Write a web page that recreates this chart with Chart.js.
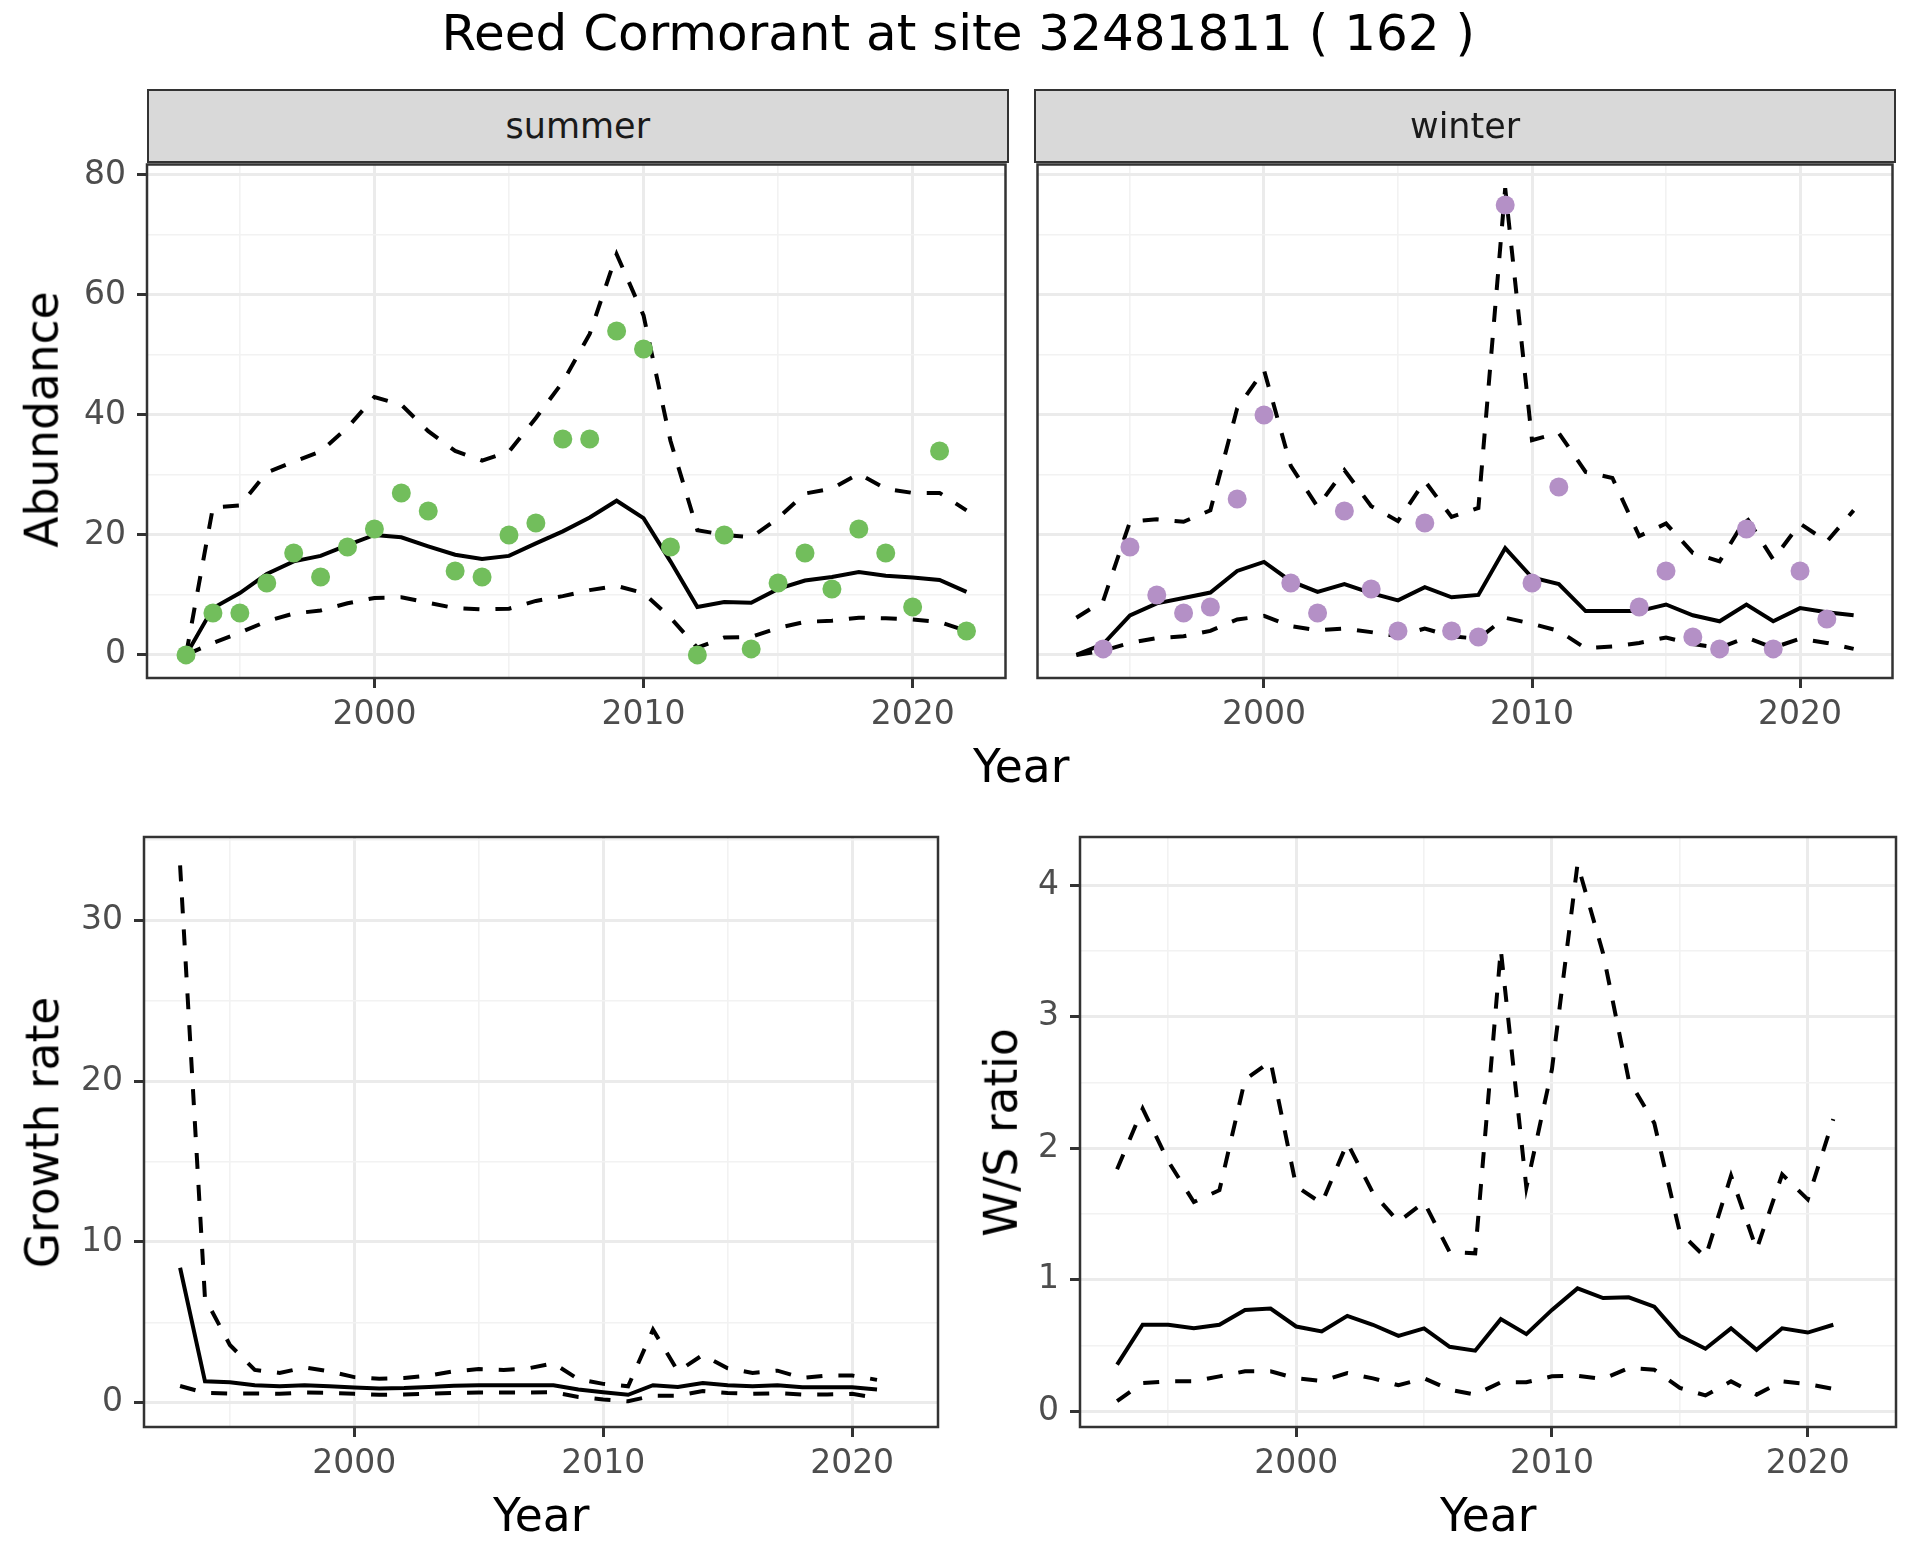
<!DOCTYPE html>
<html>
<head>
<meta charset="utf-8">
<script src="https://cdn.jsdelivr.net/npm/chart.js@4.4.1/dist/chart.umd.min.js"></script>
<style>
  body { margin: 0; background: #fff; width: 1920px; height: 1560px; position: relative; overflow: hidden; }
  canvas { position: absolute; }
  .txt { position: absolute; white-space: nowrap; line-height: 1.164; font-family: 'DejaVu Sans'; }
  .strip { position: absolute; background: #D9D9D9; border: 2.5px solid #333333; box-sizing: border-box; }
</style>
</head>
<body>
<canvas id="summerChart"></canvas>
<canvas id="winterChart"></canvas>
<canvas id="growthChart"></canvas>
<canvas id="ratioChart"></canvas>
<div class="strip" style="left:147px;top:89px;width:862px;height:74px;"></div>
<div class="strip" style="left:1034px;top:89px;width:862px;height:74px;"></div>
<script>
// Survey years (abundance panels) and model years (growth rate / ratio panels)
const years = [1993, 1994, 1995, 1996, 1997, 1998, 1999, 2000, 2001, 2002, 2003, 2004, 2005, 2006, 2007,
               2008, 2009, 2010, 2011, 2012, 2013, 2014, 2015, 2016, 2017, 2018, 2019, 2020, 2021, 2022];
const rateYears = [1993, 1994, 1995, 1996, 1997, 1998, 1999, 2000, 2001, 2002, 2003, 2004, 2005, 2006, 2007,
                   2008, 2009, 2010, 2011, 2012, 2013, 2014, 2015, 2016, 2017, 2018, 2019, 2020, 2021];

// Summer counts and fitted trend with its interval
const summerCounts = [0, 7, 7, 12, 17, 13, 18, 21, 27, 24, 14, 13, 20, 22, 36, 36, 54, 51, 18, 0, 20, 1, 12, 17, 11, 21, 17, 8, 34, 4];
const summerMean = [0, 7.8, 10.3, 13.5, 15.6, 16.5, 18.3, 20.0, 19.6, 18.1, 16.7, 16.0, 16.5, 18.6, 20.6,
                    22.9, 25.7, 22.8, 15.6, 8.0, 8.8, 8.7, 11.0, 12.4, 13.0, 13.8, 13.2, 12.9, 12.5, 10.5];
const summerUpper = [0, 24.6, 24.9, 30.4, 32.2, 33.9, 37.9, 43.0, 41.7, 37.3, 34.0, 32.4, 33.9, 39.5, 45.5,
                     53.5, 66.8, 56.6, 35.7, 20.8, 20.0, 19.6, 22.8, 26.9, 27.7, 30.2, 27.7, 27.0, 27.0, 24.1];
const summerLower = [0, 2.0, 3.7, 5.6, 6.9, 7.4, 8.6, 9.5, 9.6, 8.7, 7.8, 7.6, 7.7, 9.0, 9.8,
                     10.8, 11.5, 10.3, 6.2, 1.2, 2.9, 3.0, 4.5, 5.5, 5.7, 6.2, 6.1, 5.9, 5.5, 4.0];

// Winter counts (missing years are null) and fitted trend
const winterCounts = [null, 1, 18, 10, 7, 8, 26, 40, 12, 7, 24, 11, 4, 22, 4, 3, 75, 12, 28, null, null, 8, 14, 3, 1, 21, 1, 14, 6, null];
const winterMean = [0, 1.8, 6.6, 8.6, 9.5, 10.4, 14.0, 15.5, 12.3, 10.5, 11.8, 10.3, 9.1, 11.3, 9.6,
                    10.0, 17.8, 12.9, 11.8, 7.3, 7.3, 7.3, 8.4, 6.6, 5.6, 8.4, 5.6, 7.8, 7.1, 6.6];
const winterUpper = [6.2, 9.0, 22.2, 22.6, 22.2, 24.1, 41.1, 47.5, 31.5, 24.7, 30.8, 24.8, 22.3, 29.0, 23.0,
                     24.5, 77.8, 35.8, 37.0, 30.5, 29.5, 19.8, 21.9, 17.0, 15.6, 22.9, 15.9, 21.9, 18.9, 24.1];
const winterLower = [0, 0.7, 2.0, 2.8, 3.1, 4.0, 5.9, 6.5, 4.8, 4.1, 4.4, 3.8, 3.1, 4.4, 3.1,
                     2.7, 6.2, 5.2, 4.0, 1.1, 1.4, 2.0, 2.9, 1.8, 1.2, 2.9, 1.2, 2.7, 2.0, 1.0];

// Growth rate
const growthMean = [8.4, 1.34, 1.28, 1.1, 1.03, 1.1, 1.03, 0.95, 0.9, 0.92, 0.99, 1.07, 1.1, 1.1, 1.1,
                    1.1, 0.83, 0.66, 0.5, 1.1, 0.99, 1.24, 1.1, 1.03, 1.1, 0.97, 0.97, 0.97, 0.83];
const growthUpper = [33.4, 6.5, 3.6, 2.05, 1.86, 2.2, 1.96, 1.6, 1.5, 1.55, 1.7, 1.96, 2.1, 2.05, 2.15,
                     2.46, 1.47, 1.18, 1.03, 4.55, 1.96, 2.98, 2.15, 1.86, 2.0, 1.55, 1.7, 1.7, 1.43];
const growthLower = [1.05, 0.62, 0.58, 0.58, 0.56, 0.64, 0.62, 0.56, 0.5, 0.52, 0.56, 0.62, 0.64, 0.64, 0.64,
                     0.66, 0.37, 0.21, 0.1, 0.45, 0.45, 0.74, 0.62, 0.56, 0.6, 0.52, 0.52, 0.56, 0.31];

// Winter / summer ratio
const ratioMean = [0.354, 0.657, 0.657, 0.63, 0.657, 0.77, 0.78, 0.644, 0.606, 0.725, 0.657, 0.573, 0.63, 0.49, 0.46,
                   0.70, 0.586, 0.77, 0.934, 0.86, 0.866, 0.795, 0.573, 0.475, 0.63, 0.467, 0.63, 0.598, 0.657];
const ratioUpper = [1.84, 2.30, 1.90, 1.59, 1.68, 2.52, 2.66, 1.71, 1.58, 2.04, 1.66, 1.44, 1.59, 1.21, 1.2,
                    3.51, 1.7, 2.6, 4.16, 3.48, 2.52, 2.19, 1.36, 1.17, 1.79, 1.23, 1.80, 1.61, 2.22];
const ratioLower = [0.076, 0.215, 0.227, 0.227, 0.265, 0.303, 0.303, 0.25, 0.23, 0.29, 0.25, 0.197, 0.25, 0.164, 0.126,
                    0.22, 0.22, 0.265, 0.27, 0.245, 0.328, 0.316, 0.177, 0.12, 0.227, 0.126, 0.227, 0.207, 0.17];

// Tick positions (major get labels, minor only get a light grid line)
const yearMajor = [2000, 2010, 2020];
const yearMinor = [1995, 2005, 2015];
const abundanceMajor = [0, 20, 40, 60, 80];
const abundanceMinor = [10, 30, 50, 70];
const growthMajor = [0, 10, 20, 30];
const growthMinor = [5, 15, 25, 35];
const ratioMajor = [0, 1, 2, 3, 4];
const ratioMinor = [0.5, 1.5, 2.5, 3.5];

const TICK_FONT = { family: 'DejaVu Sans', size: 33 };
const TICK_COLOR = '#4D4D4D';

// pair x values with y values for the linear x axis
function xy(xs, ys) {
  return xs.map((x, i) => ({ x: x, y: ys[i] }));
}

function lineSet(xs, ys, dashed) {
  return {
    data: xy(xs, ys),
    borderColor: '#000000',
    borderWidth: 4,
    borderDash: dashed ? [16, 16] : [],
    pointRadius: 0,
    tension: 0,
    order: 1
  };
}

function pointSet(xs, ys, color) {
  return {
    data: xy(xs, ys),
    showLine: false,
    pointRadius: 9.5,
    pointBackgroundColor: color,
    pointBorderWidth: 0,
    order: 0
  };
}

// Build an axis with ggplot-like major/minor grid
function makeAxis(min, max, major, minor, showLabels, fixedSize, horizontal) {
  const all = major.concat(minor).sort((a, b) => a - b);
  const isMajor = v => major.some(m => Math.abs(m - v) < 1e-9);
  return {
    type: 'linear',
    min: min,
    max: max,
    afterBuildTicks: s => { s.ticks = all.map(v => ({ value: v })); },
    afterFit: s => {
      if (horizontal) { s.height = fixedSize; } else { s.width = fixedSize; }
      s.paddingLeft = 0; s.paddingRight = 0; s.paddingTop = 0; s.paddingBottom = 0;
    },
    border: { display: false },
    grid: {
      color: c => isMajor(c.tick.value) ? '#EBEBEB' : '#F2F2F2',
      lineWidth: c => isMajor(c.tick.value) ? 3 : 1.6,
      tickColor: c => isMajor(c.tick.value) ? '#333333' : 'rgba(0,0,0,0)',
      tickWidth: 3,
      tickLength: 10,
      drawTicks: showLabels
    },
    ticks: {
      display: showLabels,
      autoSkip: false,
      maxRotation: 0,
      padding: horizontal ? 8 : 11,
      font: TICK_FONT,
      color: TICK_COLOR,
      callback: v => isMajor(v) ? String(v) : ''
    }
  };
}

// Panel border drawn over the data, like theme_bw
const panelBorder = {
  id: 'panelBorder',
  afterDraw(chart) {
    const a = chart.chartArea;
    const ctx = chart.ctx;
    ctx.save();
    ctx.strokeStyle = '#333333';
    ctx.lineWidth = 2.5;
    ctx.strokeRect(a.left, a.top, a.right - a.left, a.bottom - a.top);
    ctx.restore();
  }
};

// Place one panel so that its plot area lands on the given page box
function drawPanel(id, box, yAxisWidth, datasets, yMin, yMax, yMajor, yMinor, showY) {
  const padT = 6, padR = 6, padL = 6, xh = 80;
  const canvas = document.getElementById(id);
  const w = padL + yAxisWidth + (box.right - box.left) + padR;
  const h = padT + (box.bottom - box.top) + xh;
  canvas.width = w;
  canvas.height = h;
  canvas.style.width = w + 'px';
  canvas.style.height = h + 'px';
  canvas.style.left = (box.left - yAxisWidth - padL) + 'px';
  canvas.style.top = (box.top - padT) + 'px';

  new Chart(canvas.getContext('2d'), {
    type: 'line',
    data: { datasets: datasets },
    options: {
      responsive: false,
      animation: false,
      devicePixelRatio: 1,
      layout: { padding: { top: padT, right: padR, left: padL, bottom: 0 } },
      plugins: { legend: { display: false }, tooltip: { enabled: false } },
      scales: {
        x: makeAxis(1991.55, 2023.45, yearMajor, yearMinor, true, xh, true),
        y: makeAxis(yMin, yMax, yMajor, yMinor, showY, yAxisWidth, false)
      }
    },
    plugins: [panelBorder]
  });
}

// Text helper: horizontal text by centre x and baseline, or rotated by baseline x and centre y
function addText(str, x, y, size, color, rotated) {
  const d = document.createElement('div');
  d.className = 'txt';
  d.textContent = str;
  d.style.fontSize = size + 'px';
  d.style.color = color;
  document.body.appendChild(d);
  const w = d.offsetWidth, h = d.offsetHeight;
  if (!rotated) {
    d.style.left = (x - w / 2) + 'px';
    d.style.top = (y - 0.928 * size) + 'px';
  } else {
    const cx = x - 0.346 * size;
    d.style.left = (cx - w / 2) + 'px';
    d.style.top = (y - h / 2) + 'px';
    d.style.transform = 'rotate(-90deg)';
  }
}

document.addEventListener('DOMContentLoaded', function() {
  drawPanel('summerChart', { left: 147, right: 1009, top: 161, bottom: 678 }, 141, [
    pointSet(years, summerCounts, '#72BE5C'),
    lineSet(years, summerMean, false),
    lineSet(years, summerUpper, true),
    lineSet(years, summerLower, true)
  ], -3.85, 81.75, abundanceMajor, abundanceMinor, true);

  drawPanel('winterChart', { left: 1034, right: 1896, top: 161, bottom: 678 }, 0, [
    pointSet(years, winterCounts, '#B490C6'),
    lineSet(years, winterMean, false),
    lineSet(years, winterUpper, true),
    lineSet(years, winterLower, true)
  ], -3.85, 81.75, abundanceMajor, abundanceMinor, false);

  drawPanel('growthChart', { left: 144, right: 938, top: 837, bottom: 1427 }, 138, [
    lineSet(rateYears, growthMean, false),
    lineSet(rateYears, growthUpper, true),
    lineSet(rateYears, growthLower, true)
  ], -1.5, 35.17, growthMajor, growthMinor, true);

  drawPanel('ratioChart', { left: 1080, right: 1896, top: 837, bottom: 1427 }, 120, [
    lineSet(rateYears, ratioMean, false),
    lineSet(rateYears, ratioUpper, true),
    lineSet(rateYears, ratioLower, true)
  ], -0.12, 4.365, ratioMajor, ratioMinor, true);

  addText('Reed Cormorant at site 32481811 ( 162 )', 958, 50, 50, '#000000', false);
  addText('summer', 578, 138, 35, '#1A1A1A', false);
  addText('winter', 1465, 138, 35, '#1A1A1A', false);
  addText('Year', 1021, 783, 45.5, '#000000', false);
  addText('Year', 541, 1532, 45.5, '#000000', false);
  addText('Year', 1488, 1532, 45.5, '#000000', false);
  addText('Abundance', 59, 419, 45.5, '#000000', true);
  addText('Growth rate', 60, 1132, 45.5, '#000000', true);
  addText('W/S ratio', 1018, 1132, 45.5, '#000000', true);
});
</script>
</body>
</html>
